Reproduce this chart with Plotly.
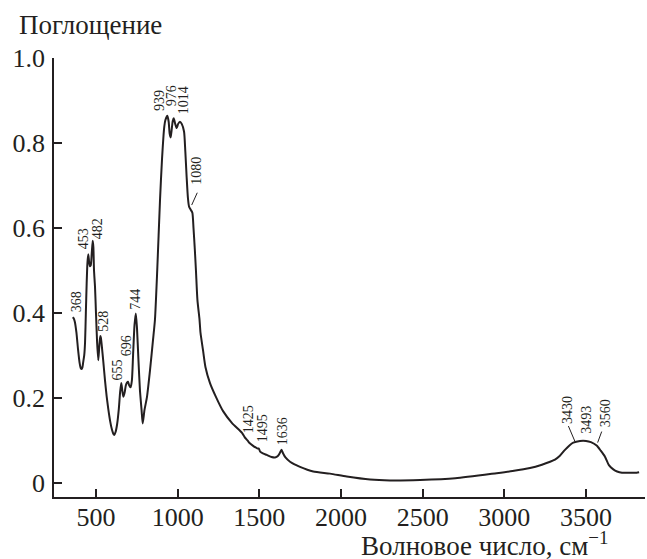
import plotly.graph_objects as go

# ---- spectrum data (wavenumber, absorbance) ----
wavenumber = [
    357, 363, 370, 380, 390, 400, 407, 412, 417, 422, 428, 433, 438, 443, 448, 453,
    458, 463, 468, 474, 480, 484, 488, 494, 500, 507, 514, 520, 526, 530, 535, 545,
    555, 565, 575, 587, 598, 606, 612, 620, 630, 640, 648, 655, 662, 668, 675, 683,
    690, 696, 703, 712, 720, 727, 736, 744, 751, 760, 769, 779, 786, 797, 812, 831,
    849, 861, 875, 892, 904, 918, 925, 937, 945, 951, 957, 963, 970, 976, 985, 994,
    1003, 1014, 1025, 1039, 1047, 1055, 1063, 1070, 1080, 1090, 1097, 1105, 1112, 1121,
    1134, 1140, 1155, 1170, 1198, 1235, 1278, 1333, 1394, 1410, 1423, 1430, 1440, 1460,
    1480, 1490, 1497, 1505, 1525, 1545, 1575, 1596, 1615, 1630, 1636, 1645, 1660, 1688,
    1749, 1830, 1933, 2035, 2178, 2300, 2484, 2700, 2953, 3050, 3157, 3230, 3280, 3310,
    3340, 3371, 3400, 3422, 3463, 3500, 3530, 3565, 3590, 3616, 3640, 3667, 3690, 3720,
    3760, 3810, 3825,
]
absorbance = [
    0.390, 0.388, 0.380, 0.355, 0.315, 0.282, 0.270, 0.268, 0.272, 0.285, 0.300, 0.330,
    0.400, 0.470, 0.520, 0.538, 0.520, 0.510, 0.512, 0.540, 0.570, 0.555, 0.500, 0.462,
    0.400, 0.330, 0.289, 0.320, 0.346, 0.342, 0.325, 0.285, 0.242, 0.205, 0.175, 0.145,
    0.125, 0.116, 0.113, 0.120, 0.140, 0.175, 0.215, 0.235, 0.215, 0.203, 0.212, 0.230,
    0.236, 0.238, 0.230, 0.225, 0.242, 0.300, 0.372, 0.399, 0.365, 0.289, 0.219, 0.172,
    0.140, 0.172, 0.202, 0.266, 0.336, 0.384, 0.501, 0.666, 0.760, 0.838, 0.854, 0.864,
    0.850, 0.822, 0.813, 0.830, 0.852, 0.858, 0.845, 0.835, 0.845, 0.850, 0.845, 0.827,
    0.780, 0.720, 0.670, 0.650, 0.643, 0.636, 0.600, 0.550, 0.500, 0.431, 0.384, 0.353,
    0.313, 0.273, 0.235, 0.202, 0.169, 0.141, 0.118, 0.108, 0.102, 0.099, 0.094, 0.088,
    0.083, 0.081, 0.081, 0.074, 0.069, 0.066, 0.061, 0.060, 0.064, 0.074, 0.078, 0.070,
    0.060, 0.050, 0.038, 0.027, 0.022, 0.015, 0.008, 0.006, 0.007, 0.011, 0.023, 0.028,
    0.035, 0.043, 0.050, 0.055, 0.064, 0.078, 0.089, 0.095, 0.099, 0.099, 0.096, 0.088,
    0.076, 0.062, 0.042, 0.032, 0.027, 0.024, 0.024, 0.024, 0.025,
]

# ---- peak labels ----
peak_labels = ["368", "453", "482", "528", "655", "696", "744", "939", "976", "1014",
               "1080", "1425", "1495", "1636", "3430", "3493", "3560"]
# label placement (x centre, bottom y) in axis units
label_x = [382, 422, 506, 545, 630, 684, 742, 889, 959, 1036,
           1118, 1431, 1517, 1640, 3383, 3504, 3616]
label_y = [0.400, 0.547, 0.572, 0.353, 0.238, 0.295, 0.405, 0.873, 0.885, 0.864,
           0.699, 0.115, 0.094, 0.087, 0.136, 0.113, 0.129]

# leader lines (x0, y0, x1, y1) in axis units
leaders = [
    (1086, 0.654, 1120, 0.683),
    (3392, 0.134, 3433, 0.097),
    (3596, 0.121, 3571, 0.095),
]

x_ticks = [500, 1000, 1500, 2000, 2500, 3000, 3500]
y_ticks = [0, 0.2, 0.4, 0.6, 0.8, 1.0]
y_tick_text = ["0", "0.2", "0.4", "0.6", "0.8", "1.0"]

INK = "#231f20"
FONT = "Liberation Serif, Times New Roman, serif"

fig = go.Figure()
fig.add_trace(go.Scatter(
    x=wavenumber, y=absorbance, mode="lines",
    line=dict(color=INK, width=2, shape="spline", smoothing=0.6),
    hoverinfo="skip",
))

for t, lx, ly in zip(peak_labels, label_x, label_y):
    fig.add_annotation(
        x=lx, y=ly, xref="x", yref="y", text=t, showarrow=False,
        textangle=-90, xanchor="center", yanchor="bottom",
        font=dict(family=FONT, size=14, color=INK), borderpad=0,
    )

for x0, y0, x1, y1 in leaders:
    fig.add_shape(type="line", x0=x0, y0=y0, x1=x1, y1=y1, xref="x", yref="y",
                  line=dict(color=INK, width=1))

fig.add_annotation(
    x=-0.0631, y=1.0758, xref="paper", yref="paper", text="Поглощение",
    showarrow=False, xanchor="left", yanchor="middle",
    font=dict(family=FONT, size=27, color=INK),
)
fig.add_annotation(
    x=0.9408, y=-0.108, xref="paper", yref="paper",
    text="Волновое число, см<sup>−1</sup>",
    showarrow=False, xanchor="right", yanchor="middle",
    font=dict(family=FONT, size=27, color=INK),
)

axis_common = dict(
    showline=True, linecolor=INK, linewidth=1.8, showgrid=False, zeroline=False,
    ticks="inside", ticklen=8, tickwidth=1.6, tickcolor=INK,
    tickfont=dict(family=FONT, size=26, color=INK), mirror=False,
)
fig.update_xaxes(range=[243, 3861], tickvals=x_ticks, ticklabelstandoff=-4, **axis_common)
fig.update_yaxes(range=[-0.033, 1.0], tickvals=y_ticks, ticktext=y_tick_text,
                 ticklabelstandoff=2, **axis_common)

fig.update_layout(
    width=647, height=559,
    margin=dict(l=54, r=2, t=58, b=62, autoexpand=False),
    plot_bgcolor="white", paper_bgcolor="white",
    showlegend=False,
)

fig.write_html("out.html", config={"displayModeBar": False},
               post_script="document.body.style.margin='0px';")
